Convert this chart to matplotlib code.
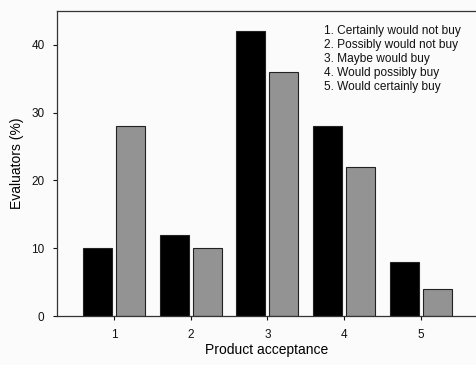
import numpy as np
import matplotlib
matplotlib.use("Agg")
import matplotlib.pyplot as plt

plt.rcParams['font.family'] = ['Liberation Sans', 'DejaVu Sans']

categories = [1, 2, 3, 4, 5]
series_black = [10, 12, 42, 28, 8]
series_gray = [28, 10, 36, 22, 4]
legend_lines = [
    "1. Certainly would not buy",
    "2. Possibly would not buy",
    "3. Maybe would buy",
    "4. Would possibly buy",
    "5. Would certainly buy",
]

fig = plt.figure(figsize=(4.76, 3.65), dpi=100, facecolor='#fbfbfb')
ax = fig.add_axes([0.12, 0.134, 0.88, 0.836])
ax.set_facecolor('#fbfbfb')

x = np.array(categories)
w = 0.38
ax.bar(x - 0.215, series_black, width=w, color='black', edgecolor='#222222', linewidth=0.8)
ax.bar(x + 0.215, series_gray, width=w, color='#939393', edgecolor='#222222', linewidth=0.8)

ax.set_xlim(0.26, 5.72)
ax.set_ylim(0, 45)
ax.set_xticks(categories)
ax.set_yticks([0, 10, 20, 30, 40])
ax.tick_params(labelsize=8.5, length=3, width=0.8, direction='out', colors='#111111', pad=6)
for s in ax.spines.values():
    s.set_linewidth(0.9)
    s.set_color('#333333')
ax.spines['right'].set_visible(False)

ax.set_ylabel("Evaluators (%)", fontsize=10, labelpad=5)
ax.set_xlabel("Product acceptance", fontsize=10, labelpad=2)

ax.text(0.637, 0.955, "\n".join(legend_lines), transform=ax.transAxes,
        fontsize=8.6, va='top', ha='left', linespacing=1.24, color='#111111')

fig.savefig("out.png", dpi=100, facecolor=fig.get_facecolor())
